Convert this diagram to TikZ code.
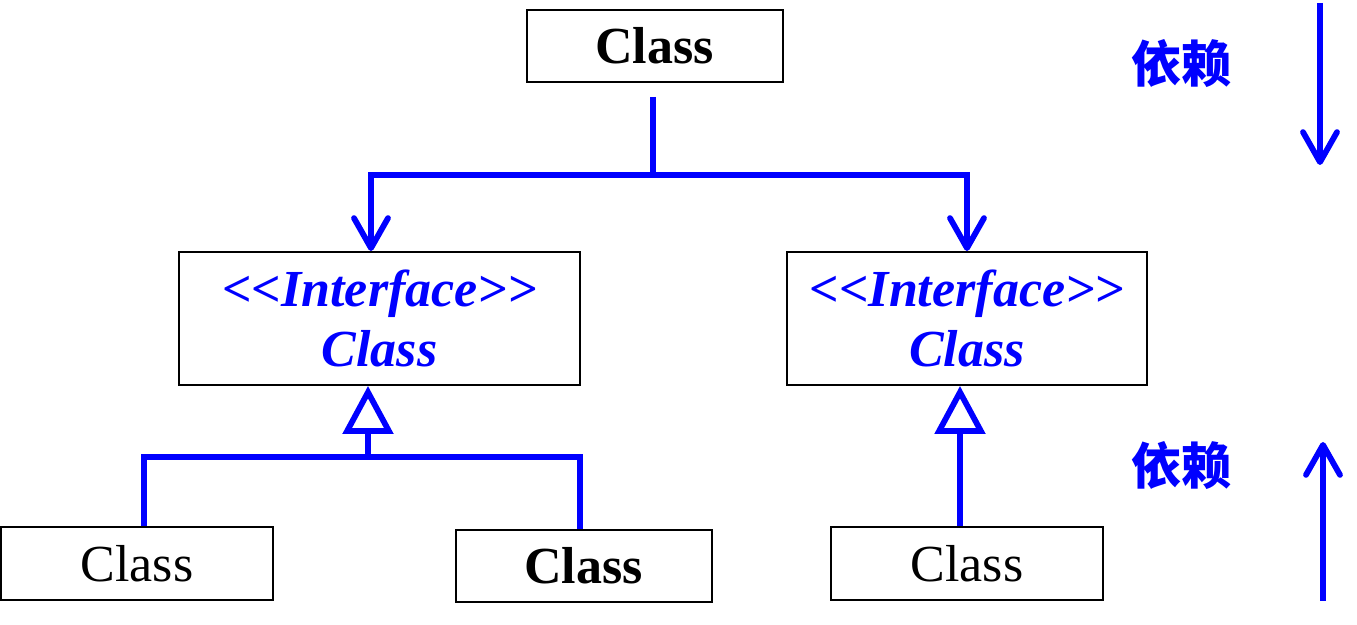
\documentclass[tikz,border=0pt]{standalone}
\usepackage{fontspec}
\setmainfont{Liberation Serif}
\newfontfamily\cjk{Noto Sans CJK SC}
\usetikzlibrary{arrows.meta}

\begin{document}
\begin{tikzpicture}[
  x=0.5pt, y=-0.5pt,
  cls/.style={draw, line width=1pt, inner sep=0pt, minimum width=136pt, minimum height=36.5pt, font=\fontsize{26}{30}\selectfont},
  clsbold/.style={cls, minimum width=128pt, minimum height=36pt, font=\fontsize{26}{30}\selectfont\bfseries},
  iface/.style={draw, line width=1pt, inner sep=0pt, minimum width=200.5pt, minimum height=66.5pt, align=center, text=blue, font=\fontsize{26}{30}\selectfont\bfseries\itshape},
  dep/.style={blue, line width=2.9pt},
  uses/.style={dep, -{Straight Barb[length=15pt, width=17pt, round]}},
  realize/.style={dep, -{Triangle[open, length=24pt, width=25pt, fill=white]}},
  note/.style={text=blue, font=\cjk\bfseries\fontsize{25}{30}\selectfont}
]
  \useasboundingbox (0,0) rectangle (1357,625);

  % Top class
  \node[clsbold] (top) at (654.5,46) {Class};

  % Interfaces
  \node[iface] (ifaceL) at (379.5,318.5) {<{}<Interface>{}>\\Class};
  \node[iface, minimum width=180pt] (ifaceR) at (967,318.5) {<{}<Interface>{}>\\Class};

  % Bottom classes
  \node[cls] (clsA) at (137,563.5) {Class};
  \node[clsbold] (clsB) at (583.5,566) {Class};
  \node[cls] (clsC) at (967,563.5) {Class};

  % Uses
  \coordinate (fork) at (653,175);
  \draw[dep] ([yshift=-7pt]fork |- top.south) -- (fork);
  \draw[uses] (fork) -| ([xshift=-4.25pt]ifaceL.north);
  \draw[uses] (fork) -| (ifaceR.north);

  % Realizations
  \coordinate (join) at (368,457);
  \draw[realize] (join) -- (join |- ifaceL.south);
  \draw[dep] ([xshift=3.5pt]clsA.north) |- (join) -| ([xshift=-1.75pt]clsB.north);
  \draw[realize] ([xshift=-3.5pt]clsC.north) -- ([xshift=-3.5pt]ifaceR.south);

  % Direction notes
  \node[note] (depDown) at (1181,64) {依赖};
  \node[note] (depUp) at (1181,466) {依赖};
  \coordinate (downFrom) at (1320,3);
  \coordinate (downTo) at (1320,165);
  \coordinate (upFrom) at (1323,601);
  \coordinate (upTo) at (1323,442);
  \draw[uses] (downFrom) -- (downTo);
  \draw[uses] (upFrom) -- (upTo);
\end{tikzpicture}
\end{document}
